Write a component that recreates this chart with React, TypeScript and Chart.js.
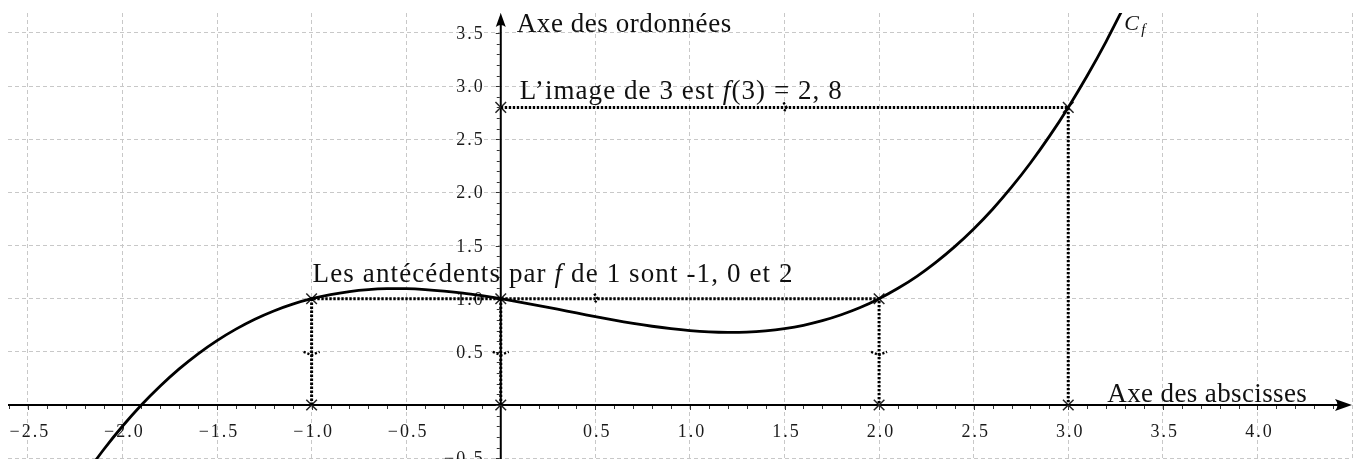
import { useEffect, useRef } from "react";
import { Chart, registerables } from "chart.js";

Chart.register(...registerables);

// ---- data ----
const curveX = [
  -2.2, -2.1, -2.0, -1.9, -1.8, -1.7, -1.6, -1.5, -1.4, -1.3, -1.2, -1.1, -1.0,
  -0.9, -0.8, -0.7, -0.6, -0.5, -0.4, -0.3, -0.2, -0.1, 0.0, 0.1, 0.2, 0.3, 0.4,
  0.5, 0.6, 0.7, 0.8, 0.9, 1.0, 1.1, 1.2, 1.3, 1.4, 1.5, 1.6, 1.7, 1.8, 1.9, 2.0,
  2.1, 2.2, 2.3, 2.4, 2.5, 2.6, 2.7, 2.8, 2.9, 3.0, 3.1, 3.2, 3.3,
];
const curveY = [
  -0.663, -0.421, -0.2, 0.0, 0.179, 0.34, 0.482, 0.606, 0.714, 0.807, 0.885, 0.949, 1.0,
  1.039, 1.067, 1.085, 1.094, 1.094, 1.086, 1.072, 1.053, 1.028, 1.0, 0.969, 0.935, 0.901, 0.866,
  0.831, 0.798, 0.768, 0.741, 0.718, 0.7, 0.688, 0.683, 0.686, 0.698, 0.719, 0.75, 0.793, 0.849, 0.917, 1.0,
  1.098, 1.211, 1.342, 1.49, 1.656, 1.842, 2.049, 2.277, 2.527, 2.8, 3.097, 3.419, 3.767,
];
const markX = [-1, 0, 2, 3, 0, -1, 0, 2, 3];
const markY = [1, 1, 1, 2.8, 2.8, 0, 0, 0, 0];
const imageLineX = [0, 3, 3];
const imageLineY = [2.8, 2.8, 0];
const antecedentLineX = [-1, -1, 2, 2];
const antecedentLineY = [0, 1, 1, 0];
const zeroLineX = [0, 0];
const zeroLineY = [1, 0];
const xGridValues = [-2.5, -2, -1.5, -1, -0.5, 0, 0.5, 1, 1.5, 2, 2.5, 3, 3.5, 4, 4.5];
const yGridValues = [-0.5, 0, 0.5, 1, 1.5, 2, 2.5, 3, 3.5];
const xLabelValues = [-2.5, -2, -1.5, -1, -0.5, 0.5, 1, 1.5, 2, 2.5, 3, 3.5, 4];
const yLabelValues = [-0.5, 0.5, 1, 1.5, 2, 2.5, 3, 3.5];
const xRange = [-2.605, 4.5];
const yRange = [-0.555, 3.688];
const imageArrowAt = [1.5, 2.8];
const antecedentArrowsH = [[0.5, 1]];
const antecedentArrowsV = [[-1, 0.5], [0, 0.5], [2, 0.5]];

const BIG = "Liberation Serif";
const fmt = (v: number) => (v < 0 ? "\u2212" : "") + Math.abs(v).toFixed(1);

type Piece = { t: string; it?: boolean };

function drawPieces(ctx: CanvasRenderingContext2D, pieces: Piece[], x: number, y: number, size: number, target: number) {
  let natural = 0;
  let n = 0;
  const widths: number[] = [];
  for (const p of pieces) {
    ctx.font = `${p.it ? "italic " : ""}${size}px "${BIG}"`;
    (ctx as any).letterSpacing = "0px";
    const w = ctx.measureText(p.t).width;
    widths.push(w);
    natural += w;
    n += [...p.t].length;
  }
  const sp = n > 0 ? (target - natural) / n : 0;
  let cx = x;
  pieces.forEach((p, i) => {
    ctx.font = `${p.it ? "italic " : ""}${size}px "${BIG}"`;
    (ctx as any).letterSpacing = `${sp}px`;
    ctx.fillText(p.t, cx, y);
    cx += widths[i] + sp * [...p.t].length;
  });
  (ctx as any).letterSpacing = "0px";
}

const mathPlugin = {
  id: "mathPlugin",
  beforeDatasetsDraw(chart: any) {
    const ctx: CanvasRenderingContext2D = chart.ctx;
    const xs = chart.scales.x;
    const ys = chart.scales.y;
    const area = chart.chartArea;
    const x0 = xs.getPixelForValue(0);
    const y0 = ys.getPixelForValue(0);
    ctx.save();
    ctx.strokeStyle = "#000";
    ctx.fillStyle = "#000";
    // axes
    ctx.lineWidth = 2;
    ctx.beginPath();
    ctx.moveTo(area.left, y0);
    ctx.lineTo(area.right - 8, y0);
    ctx.moveTo(x0, area.bottom);
    ctx.lineTo(x0, area.top + 8);
    ctx.stroke();
    // arrowheads
    const tipX = area.right;
    ctx.beginPath();
    ctx.moveTo(tipX, y0);
    ctx.lineTo(tipX - 17, y0 - 6);
    ctx.quadraticCurveTo(tipX - 12, y0, tipX - 17, y0 + 6);
    ctx.closePath();
    ctx.fill();
    const tipY = area.top;
    ctx.beginPath();
    ctx.moveTo(x0, tipY);
    ctx.lineTo(x0 - 5, tipY + 14);
    ctx.quadraticCurveTo(x0, tipY + 10, x0 + 5, tipY + 14);
    ctx.closePath();
    ctx.fill();
    // minor ticks
    ctx.lineWidth = 1;
    ctx.strokeStyle = "#333";
    ctx.beginPath();
    for (let i = Math.ceil(xRange[0] * 10); i <= Math.floor(xRange[1] * 10) - 1; i++) {
      const px = Math.round(xs.getPixelForValue(i / 10)) + 0.5;
      const len = i % 5 === 0 ? 5 : 4;
      ctx.moveTo(px, y0 + 1);
      ctx.lineTo(px, y0 + len);
    }
    for (let i = Math.ceil(yRange[0] * 10); i <= Math.floor(yRange[1] * 10) - 1; i++) {
      const py = Math.round(ys.getPixelForValue(i / 10)) + 0.5;
      const len = i % 5 === 0 ? 5 : 4;
      ctx.moveTo(x0 - 1, py);
      ctx.lineTo(x0 - len, py);
    }
    ctx.stroke();
    // tick labels
    ctx.fillStyle = "#1a1a1a";
    ctx.font = `18px "${BIG}"`;
    (ctx as any).letterSpacing = "2px";
    ctx.textBaseline = "alphabetic";
    ctx.textAlign = "center";
    for (const v of xLabelValues) {
      ctx.fillText(fmt(v), xs.getPixelForValue(v) + 2, y0 + 32);
    }
    ctx.textAlign = "right";
    for (const v of yLabelValues) {
      ctx.fillText(fmt(v), x0 - 16, ys.getPixelForValue(v) + 6);
    }
    (ctx as any).letterSpacing = "0px";
    ctx.restore();
  },
  afterDatasetsDraw(chart: any) {
    const ctx: CanvasRenderingContext2D = chart.ctx;
    const xs = chart.scales.x;
    const ys = chart.scales.y;
    const area = chart.chartArea;
    const x0 = xs.getPixelForValue(0);
    ctx.save();
    // mid arrows (dotted chevrons)
    ctx.strokeStyle = "#000";
    ctx.lineWidth = 2.4;
    ctx.setLineDash([2.2, 1.8]);
    const hArrows = [imageArrowAt, ...antecedentArrowsH];
    for (const [vx, vy] of hArrows) {
      const px = xs.getPixelForValue(vx);
      const py = ys.getPixelForValue(vy);
      ctx.beginPath();
      ctx.moveTo(px - 1, py - 5);
      ctx.lineTo(px + 2, py);
      ctx.lineTo(px - 1, py + 5);
      ctx.stroke();
    }
    for (const [vx, vy] of antecedentArrowsV) {
      const px = xs.getPixelForValue(vx);
      const py = ys.getPixelForValue(vy);
      ctx.beginPath();
      ctx.moveTo(px - 8, py);
      ctx.lineTo(px, py + 3);
      ctx.lineTo(px + 8, py);
      ctx.stroke();
    }
    ctx.setLineDash([]);
    // texts
    ctx.fillStyle = "#111";
    ctx.textAlign = "left";
    ctx.textBaseline = "alphabetic";
    drawPieces(ctx, [{ t: "Axe des ordonnées" }], x0 + 16, area.top + 19, 27, 215);
    drawPieces(
      ctx,
      [{ t: "L\u2019image de 3 est " }, { t: "f", it: true }, { t: "(3) = 2, 8" }],
      x0 + 19,
      ys.getPixelForValue(2.8) - 8,
      27,
      323
    );
    drawPieces(
      ctx,
      [{ t: "Les antécédents par " }, { t: "f", it: true }, { t: " de 1 sont -1, 0 et 2" }],
      xs.getPixelForValue(-1) + 1,
      ys.getPixelForValue(1) - 17,
      27,
      481
    );
    drawPieces(ctx, [{ t: "Axe des abscisses" }], xs.getPixelForValue(3) + 39, ys.getPixelForValue(0) - 3, 27, 200);
    // C_f label
    const cx = xs.getPixelForValue(3) + 56;
    ctx.font = `italic 22px "${BIG}"`;
    ctx.fillText("C", cx, area.top + 17);
    ctx.font = `italic 15px "${BIG}"`;
    ctx.fillText("f", cx + 17, area.top + 21);
    ctx.restore();
  },
};

const toPts = (xsArr: number[], ysArr: number[]) => xsArr.map((x, i) => ({ x, y: ysArr[i] }));

export default function App() {
  const ref = useRef<HTMLCanvasElement | null>(null);
  useEffect(() => {
    if (!ref.current) return;
    const dotted = {
      showLine: true,
      borderColor: "#000",
      borderWidth: 3,
      borderDash: [2.4, 1.6],
      borderCapStyle: "butt",
      pointRadius: 0,
      tension: 0,
      fill: false,
    };
    const chart = new Chart(ref.current, {
      type: "scatter",
      data: {
        datasets: [
          { ...dotted, data: toPts(imageLineX, imageLineY) },
          { ...dotted, data: toPts(antecedentLineX, antecedentLineY) },
          { ...dotted, data: toPts(zeroLineX, zeroLineY) },
          {
            data: toPts(curveX, curveY),
            showLine: true,
            borderColor: "#000",
            borderWidth: 2.8,
            pointRadius: 0,
            tension: 0.3,
            fill: false,
          },
          {
            data: toPts(markX, markY),
            showLine: false,
            pointStyle: "crossRot",
            pointRadius: 7.5,
            borderColor: "#222",
            borderWidth: 1.5,
          },
        ] as any,
      },
      options: {
        animation: false,
        responsive: false,
        devicePixelRatio: 1,
        layout: { autoPadding: false, padding: { left: 0, right: 6, top: 5, bottom: 0 } },
        plugins: { legend: { display: false }, tooltip: { enabled: false } },
        events: [],
        scales: {
          x: {
            type: "linear",
            min: xRange[0],
            max: xRange[1],
            afterBuildTicks: (s: any) => {
              s.ticks = xGridValues.map((v) => ({ value: v }));
            },
            ticks: { display: false },
            grid: { color: "#c8c8c8", lineWidth: 1, drawTicks: false },
            border: { display: false, dash: [4, 3] },
          },
          y: {
            type: "linear",
            min: yRange[0],
            max: yRange[1],
            afterBuildTicks: (s: any) => {
              s.ticks = yGridValues.map((v) => ({ value: v }));
            },
            ticks: { display: false },
            grid: { color: "#c8c8c8", lineWidth: 1, drawTicks: false },
            border: { display: false, dash: [4, 3] },
          },
        },
      } as any,
      plugins: [mathPlugin],
    });
    return () => chart.destroy();
  }, []);
  return (
    <div style={{ position: "fixed", left: 8, top: 8, width: 1350, height: 456 }}>
      <canvas ref={ref} width={1350} height={456} style={{ display: "block", width: 1350, height: 456 }} />
    </div>
  );
}
